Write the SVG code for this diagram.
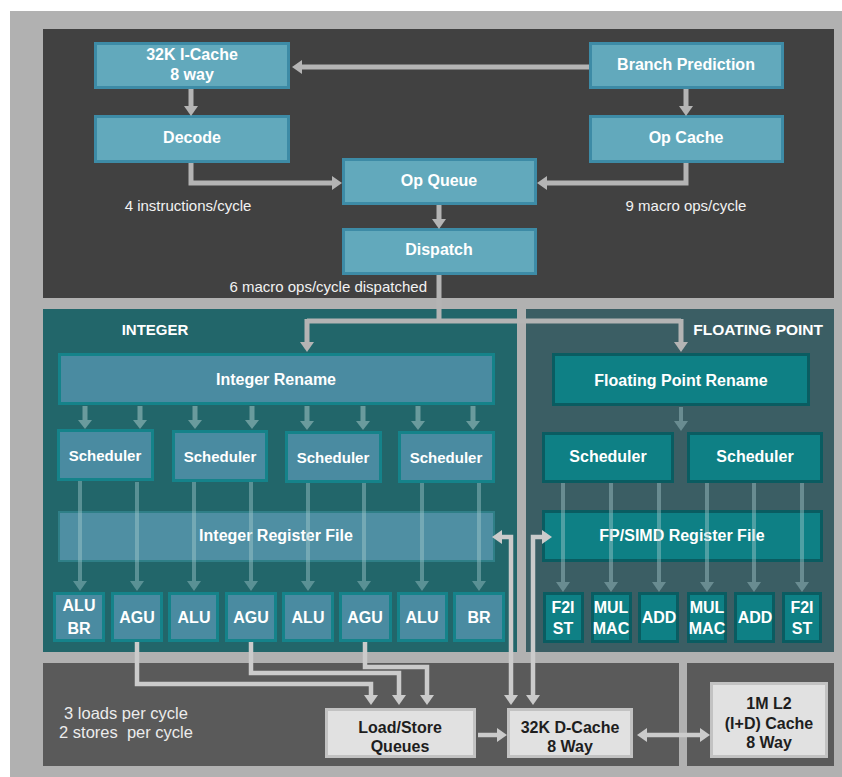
<svg xmlns="http://www.w3.org/2000/svg" width="842" height="777" viewBox="0 0 842 777">
<defs>
<style>
text{font-family:"Liberation Sans",Arial,sans-serif;text-anchor:middle}
.b{font-weight:bold;font-size:16px;fill:#ffffff}
.s15{font-size:15px}
.lbl{font-size:15px;fill:#f2f2f2}
.bl{font-weight:bold;font-size:16px;fill:#1e1e1e}
.top{fill:#62a9bc;stroke:#3d8ba6;stroke-width:3}
.int{fill:#4a8ba1;stroke:#15838a;stroke-width:3}
.irf{fill:#4f8fa3;stroke:#2f7f87;stroke-width:2}
.fp{fill:#0e8085;stroke:#0a5c61;stroke-width:3}
.bot{fill:#e1e1e1;stroke:#c2c2c2;stroke-width:3}
.c{fill:none;stroke:#b4b4b4;stroke-width:5}
.cb{fill:none;stroke:#cbcbcb;stroke-width:4.5}
.ci{fill:none;stroke:#6a9b9d;stroke-width:5}
.cl{fill:none;stroke:#a9cdd0;stroke-width:4}
</style>
<marker id="ah" markerUnits="userSpaceOnUse" viewBox="0 0 10 14" markerWidth="10" markerHeight="14" refX="0" refY="7" orient="auto-start-reverse"><path d="M0,0 L10,7 L0,14 z" fill="#b4b4b4"/></marker>
<marker id="ahb" markerUnits="userSpaceOnUse" viewBox="0 0 10 14" markerWidth="10" markerHeight="14" refX="0" refY="7" orient="auto-start-reverse"><path d="M0,0 L10,7 L0,14 z" fill="#cbcbcb"/></marker>
<marker id="ahi" markerUnits="userSpaceOnUse" viewBox="0 0 9 14" markerWidth="9" markerHeight="14" refX="0" refY="7" orient="auto"><path d="M0,0 L9,7 L0,14 z" fill="#6a9b9d"/></marker>
<marker id="ahl" markerUnits="userSpaceOnUse" viewBox="0 0 10 14" markerWidth="10" markerHeight="14" refX="0" refY="7" orient="auto"><path d="M0,0 L10,7 L0,14 z" fill="#a9cdd0"/></marker>
</defs>

<!-- backgrounds -->
<rect x="10" y="11" width="832" height="766" fill="#b1b1b1"/>
<rect x="43" y="29" width="791" height="269" fill="#414141"/>
<rect x="43" y="309" width="474" height="343" fill="#22666a"/>
<rect x="526" y="309" width="308" height="343" fill="#3b5e64"/>
<rect x="43" y="663" width="636" height="103" fill="#5a5a5a"/>
<rect x="687" y="663" width="147" height="103" fill="#5a5a5a"/>

<!-- top nodes -->
<g id="icache"><rect class="top" x="95.5" y="43.5" width="193" height="44"/><text class="b" x="192" y="60">32K I-Cache</text><text class="b" x="192" y="80">8 way</text></g>
<g id="branch"><rect class="top" x="590.5" y="43.5" width="192" height="44"/><text class="b" x="686" y="70">Branch Prediction</text></g>
<g id="decode"><rect class="top" x="95.5" y="116.5" width="193" height="45"/><text class="b" x="192" y="143">Decode</text></g>
<g id="opcache"><rect class="top" x="590.5" y="116.5" width="192" height="45"/><text class="b" x="686" y="143">Op Cache</text></g>
<g id="opqueue"><rect class="top" x="343.5" y="159.5" width="192" height="44"/><text class="b" x="439" y="186">Op Queue</text></g>
<g id="dispatch"><rect class="top" x="343.5" y="229.5" width="192" height="44"/><text class="b" x="439" y="255">Dispatch</text></g>
<g id="top-labels">
<text class="lbl" x="188" y="211">4 instructions/cycle</text>
<text class="lbl" x="686" y="211">9 macro ops/cycle</text>
<text class="lbl" x="427" y="292" style="text-anchor:end">6 macro ops/cycle dispatched</text>
</g>

<!-- integer -->
<g id="integer-label"><text class="b" x="155" y="335" style="font-size:15px">INTEGER</text></g>
<g id="int-rename"><rect class="int" x="59.5" y="354.5" width="434" height="49"/><text class="b" x="276" y="385">Integer Rename</text></g>
<g id="int-sched1"><rect class="int" x="58.5" y="430.5" width="94" height="49"/><text class="b s15" x="105" y="461">Scheduler</text></g>
<g id="int-sched2"><rect class="int" x="173.5" y="431.5" width="93" height="49"/><text class="b s15" x="220" y="462">Scheduler</text></g>
<g id="int-sched3"><rect class="int" x="286.5" y="432.5" width="94" height="49"/><text class="b s15" x="333" y="463">Scheduler</text></g>
<g id="int-sched4"><rect class="int" x="399.5" y="432.5" width="94" height="49"/><text class="b s15" x="446" y="463">Scheduler</text></g>
<g id="int-regfile"><rect class="irf" x="59" y="512" width="435" height="49"/><text class="b" x="276" y="541">Integer Register File</text></g>
<g id="int-alubr"><rect class="int" x="54.5" y="593.5" width="49" height="47"/><text class="b" x="79" y="611">ALU</text><text class="b" x="79" y="634">BR</text></g>
<g id="int-agu1"><rect class="int" x="112.5" y="593.5" width="49" height="47"/><text class="b" x="137" y="623">AGU</text></g>
<g id="int-alu1"><rect class="int" x="169.5" y="593.5" width="48" height="47"/><text class="b" x="194" y="623">ALU</text></g>
<g id="int-agu2"><rect class="int" x="226.5" y="593.5" width="49" height="47"/><text class="b" x="251" y="623">AGU</text></g>
<g id="int-alu2"><rect class="int" x="283.5" y="593.5" width="49" height="47"/><text class="b" x="308" y="623">ALU</text></g>
<g id="int-agu3"><rect class="int" x="340.5" y="593.5" width="50" height="47"/><text class="b" x="365" y="623">AGU</text></g>
<g id="int-alu3"><rect class="int" x="398.5" y="593.5" width="48" height="47"/><text class="b" x="422" y="623">ALU</text></g>
<g id="int-br"><rect class="int" x="454.5" y="593.5" width="49" height="47"/><text class="b" x="479" y="623">BR</text></g>

<!-- floating point -->
<g id="fp-label"><text class="b" x="823" y="335" style="text-anchor:end;font-size:15.5px">FLOATING POINT</text></g>
<g id="fp-rename"><rect class="fp" x="553.5" y="354.5" width="255" height="50"/><text class="b" x="681" y="386">Floating Point Rename</text></g>
<g id="fp-sched1"><rect class="fp" x="543.5" y="433.5" width="129" height="48"/><text class="b" x="608" y="462">Scheduler</text></g>
<g id="fp-sched2"><rect class="fp" x="688.5" y="433.5" width="133" height="48"/><text class="b" x="755" y="462">Scheduler</text></g>
<g id="fp-regfile"><rect class="fp" x="543.5" y="511.5" width="278" height="49"/><text class="b" x="682" y="541">FP/SIMD Register File</text></g>
<g id="fp-f2i1"><rect class="fp" x="544.5" y="593.5" width="38" height="48"/><text class="b" x="563" y="613">F2I</text><text class="b" x="563" y="634">ST</text></g>
<g id="fp-mul1"><rect class="fp" x="592.5" y="593.5" width="38" height="48"/><text class="b" x="611" y="613">MUL</text><text class="b" x="611" y="634">MAC</text></g>
<g id="fp-add1"><rect class="fp" x="639.5" y="593.5" width="38" height="48"/><text class="b" x="659" y="623">ADD</text></g>
<g id="fp-mul2"><rect class="fp" x="688.5" y="593.5" width="37" height="48"/><text class="b" x="707" y="613">MUL</text><text class="b" x="707" y="634">MAC</text></g>
<g id="fp-add2"><rect class="fp" x="735.5" y="593.5" width="38" height="48"/><text class="b" x="755" y="623">ADD</text></g>
<g id="fp-f2i2"><rect class="fp" x="783.5" y="593.5" width="37" height="48"/><text class="b" x="802" y="613">F2I</text><text class="b" x="802" y="634">ST</text></g>

<!-- bottom -->
<g id="bottom-labels">
<text x="126" y="719" style="font-size:16.5px;fill:#ececec">3 loads per cycle</text>
<text x="126" y="738" style="font-size:16.5px;fill:#ececec;white-space:pre" xml:space="preserve">2 stores  per cycle</text>
</g>
<g id="lsq"><rect class="bot" x="326.5" y="709.5" width="148" height="47"/><text class="bl" x="400" y="733">Load/Store</text><text class="bl" x="400" y="752">Queues</text></g>
<g id="dcache"><rect class="bot" x="508.5" y="709.5" width="123" height="47"/><text class="bl" x="570" y="733">32K D-Cache</text><text class="bl" x="570" y="752">8 Way</text></g>
<g id="l2"><rect class="bot" x="711.5" y="683.5" width="115" height="73"/><text class="bl" x="769" y="709">1M L2</text><text class="bl" x="769" y="729">(I+D) Cache</text><text class="bl" x="769" y="748">8 Way</text></g>

<!-- connectors -->
<g id="connectors">
<path class="c" d="M589,67 H302" marker-end="url(#ah)"/>
<path class="c" d="M191,89 V106" marker-end="url(#ah)"/>
<path class="c" d="M686,89 V106" marker-end="url(#ah)"/>
<path class="c" d="M191,163 V183 H332" marker-end="url(#ah)"/>
<path class="c" d="M686,163 V183 H547" marker-end="url(#ah)"/>
<path class="c" d="M439,205 V219" marker-end="url(#ah)"/>
<path class="c" d="M439,275 V321"/>
<path class="c" d="M307,321 H681"/>
<path class="c" d="M307,319 V342" marker-end="url(#ah)"/>
<path class="c" d="M681,319 V342" marker-end="url(#ah)"/>

<path class="ci" d="M85,406 V420" marker-end="url(#ahi)"/>
<path class="ci" d="M140,406 V420" marker-end="url(#ahi)"/>
<path class="ci" d="M195,406 V420" marker-end="url(#ahi)"/>
<path class="ci" d="M252,406 V420" marker-end="url(#ahi)"/>
<path class="ci" d="M307,406 V421" marker-end="url(#ahi)"/>
<path class="ci" d="M363,406 V421" marker-end="url(#ahi)"/>
<path class="ci" d="M418,406 V421" marker-end="url(#ahi)"/>
<path class="ci" d="M473,406 V421" marker-end="url(#ahi)"/>

<g opacity="0.42">
<path class="cl" d="M80,481 V581" marker-end="url(#ahl)"/>
<path class="cl" d="M137,482 V581" marker-end="url(#ahl)"/>
<path class="cl" d="M194,482 V581" marker-end="url(#ahl)"/>
<path class="cl" d="M251,482 V581" marker-end="url(#ahl)"/>
<path class="cl" d="M308,483 V581" marker-end="url(#ahl)"/>
<path class="cl" d="M364,483 V581" marker-end="url(#ahl)"/>
<path class="cl" d="M422,483 V581" marker-end="url(#ahl)"/>
<path class="cl" d="M479,483 V581" marker-end="url(#ahl)"/>
<path class="cl" d="M681,407 V421" marker-end="url(#ahl)"/>
<path class="cl" d="M563,483 V582" marker-end="url(#ahl)"/>
<path class="cl" d="M611,483 V582" marker-end="url(#ahl)"/>
<path class="cl" d="M659,483 V582" marker-end="url(#ahl)"/>
<path class="cl" d="M707,483 V582" marker-end="url(#ahl)"/>
<path class="cl" d="M754,483 V582" marker-end="url(#ahl)"/>
<path class="cl" d="M802,483 V582" marker-end="url(#ahl)"/>
</g>

<path class="cb" d="M502,537 H511 V695" marker-start="url(#ahb)" marker-end="url(#ahb)"/>
<path class="cb" d="M542,537 H533 V695" marker-start="url(#ahb)" marker-end="url(#ahb)"/>
<path class="cb" d="M137,642 V684 H371 V695" marker-end="url(#ahb)"/>
<path class="cb" d="M251,642 V673 H399 V695" marker-end="url(#ahb)"/>
<path class="cb" d="M365,642 V667 H427 V695" marker-end="url(#ahb)"/>
<path class="cb" d="M478,735 H497" marker-end="url(#ahb)"/>
<path class="cb" d="M647,735 H700" marker-start="url(#ahb)" marker-end="url(#ahb)"/>
</g>
</svg>
